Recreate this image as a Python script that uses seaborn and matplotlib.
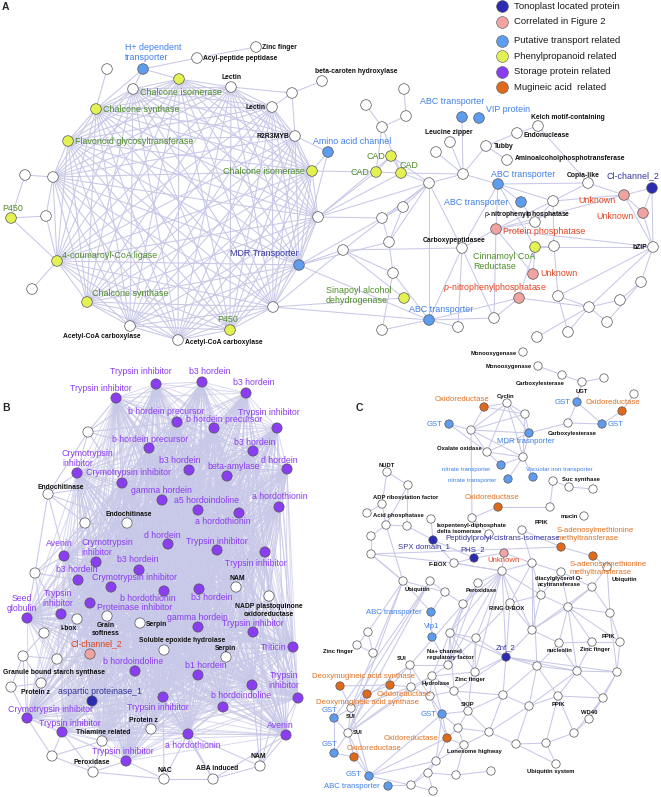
import pandas as pd
import seaborn as sns
import matplotlib.pyplot as plt
from matplotlib.collections import LineCollection
from itertools import combinations

# ---------------- panel A: node layout (pixels) and class
a_x = [143, 197, 256, 107, 179, 133, 231, 292, 322, 272,
       96, 295, 68, 328, 312, 25, 53, 11, 46, 318,
       57, 299, 32, 87, 273, 130, 230, 178, 404, 366,
       406, 382, 462, 479, 538, 517, 450, 486, 436, 507,
       391, 376, 401, 463, 498, 429, 588, 652, 624, 521,
       553, 403, 382, 643, 535, 496, 389, 462, 535, 554,
       653, 343, 393, 533, 641, 519, 404, 558, 620, 589,
       429, 494, 458, 382, 607, 568, 537]
a_y = [69, 58, 47, 69, 79, 89, 87, 93, 81, 107,
       109, 136, 141, 152, 171, 175, 177, 218, 216, 217,
       261, 265, 289, 302, 307, 326, 330, 340, 89, 105,
       116, 127, 117, 118, 126, 133, 142, 146, 152, 160,
       156, 172, 173, 174, 184, 183, 183, 188, 195, 202,
       201, 207, 218, 213, 222, 229, 242, 248, 247, 246,
       247, 250, 273, 274, 282, 298, 298, 296, 300, 307,
       320, 318, 327, 330, 322, 332, 337]
a_cat = list("bwwwywwwww" "ywybywwyww" "ybwywwywww" "wwbbwwwwww"
             "yyywbwwtcb" "wwwcwcwwyw" "wwwcwcywww" "bwwwwww")

# phenylpropanoid cluster: everyone linked to everyone
a_ring = [4, 5, 6, 9, 10, 11, 12, 14, 16, 19, 20, 21, 23, 24, 25, 26, 27]
a_edges = [(0, 1), (1, 2), (0, 5), (0, 4), (0, 10), (3, 10), (6, 7), (7, 8), (7, 9), (7, 11),
           (11, 13), (13, 14), (13, 21), (15, 16), (15, 17), (17, 18), (18, 16), (17, 20), (18, 20),
           (20, 22), (19, 40), (19, 41), (19, 42), (14, 41), (19, 45), (21, 56), (21, 61), (24, 61),
           (24, 66), (21, 70), (24, 70), (21, 52), (19, 52), (28, 30), (29, 31), (30, 31), (31, 41),
           (31, 42), (40, 42), (40, 41), (41, 42), (40, 45), (42, 45), (42, 43), (43, 32), (43, 36),
           (43, 38), (43, 37), (43, 44), (43, 45), (37, 35), (35, 34), (37, 39), (34, 46), (45, 51),
           (45, 52), (45, 56), (45, 57), (45, 70), (45, 61), (44, 46), (44, 49), (44, 55), (44, 57),
           (44, 58), (44, 50), (46, 48), (46, 50), (47, 48), (47, 53), (47, 60), (48, 53), (48, 60),
           (48, 50), (48, 55), (50, 54), (50, 59), (50, 55), (53, 60), (60, 64), (60, 69), (60, 58),
           (60, 55), (60, 67), (64, 74), (64, 68), (55, 54), (55, 63), (55, 71), (55, 57), (57, 71),
           (57, 72), (57, 70), (57, 61), (56, 52), (56, 51), (56, 62), (62, 61), (62, 70), (62, 73),
           (65, 58), (65, 70), (65, 71), (65, 69), (70, 72), (70, 73), (70, 71), (67, 59), (67, 69),
           (67, 75), (69, 74), (69, 75), (69, 76), (68, 69), (59, 58), (63, 58), (61, 66), (49, 54),
           (51, 52)]

a_labels = [(0, "H+ dependent\ntransporter", -18, -16.5, 'left'),
            (1, "Acyl-peptide peptidase", 6, 0, 'left'),
            (2, "Zinc finger", 6, 0, 'left'),
            (4, "Chalcone isomerase", -39, 13, 'left'),
            (6, "Lectin", 0, -10, 'center'),
            (8, "beta-caroten hydroxylase", -7, -10, 'left'),
            (9, "Lectin", -6, 0, 'right'),
            (10, "Chalcone synthase", 7, 0, 'left'),
            (11, "R2R3MYB", -6, 0, 'right'),
            (12, "Flavonoid glycosyltransferase", 7, 0, 'left'),
            (13, "Amino acid channel", 24, -11, 'center'),
            (14, "Chalcone isomerase", -7, 0, 'right'),
            (17, "P450", 2, -10, 'center'),
            (20, "4-coumaroyl-CoA ligase", 5, -6, 'left'),
            (21, "MDR Transporter", -35, -12, 'center'),
            (23, "Chalcone synthase", 5, -9, 'left'),
            (25, "Acetyl-CoA carboxylase", -28, 10, 'center'),
            (26, "P450", -2, -11, 'center'),
            (27, "Acetyl-CoA carboxylase", 7, 2, 'left'),
            (32, "ABC transporter", -10, -16, 'center'),
            (33, "VIP protein", 7, -9, 'left'),
            (34, "Kelch motif-containing", -7, -9, 'left'),
            (35, "Endonuclease", 7, 2, 'left'),
            (36, "Leucine zipper", -1, -10, 'center'),
            (37, "Tubby", 8, 0, 'left'),
            (39, "Aminoalcoholphosphotransferase", 8, -2, 'left'),
            (40, "CAD", -6, 0, 'right'),
            (41, "CAD", -7, 0, 'right'),
            (42, "CAD", -2, -8, 'left'),
            (44, "ABC transporter", 25, -10, 'center'),
            (46, "Copia-like", -5, -8, 'center'),
            (47, "Cl-channel_2", -19, -12, 'center'),
            (48, "Unknown", -8, 5, 'right'),
            (49, "ABC transporter", -13, 0, 'right'),
            (53, "Unknown", -9, 3, 'right'),
            (54, "$p$-nitrophenylphosphatase", -8, -8, 'center'),
            (55, "Protein phosphatase", 7, 2, 'left'),
            (57, "Carboxypeptidasee", -8, -8, 'center'),
            (58, "Cinnamoyl CoA\nReductase", -62, 14.5, 'left'),
            (60, "bZIP", -6, 0, 'right'),
            (63, "Unknown", 7, 0, 'left'),
            (65, "$p$-nitrophenylphosphatase", -24, -11, 'center'),
            (66, "Sinapoyl alcohol\ndehydrogenase", -78, -2.5, 'left'),
            (70, "ABC transporter", 12, -11, 'center')]

# ---------------- panel B
b_x = [156, 202, 246, 116, 177, 214, 277, 88, 149, 253,
       77, 189, 287, 227, 122, 48, 162, 279, 198, 239,
       85, 127, 168, 217, 265, 64, 96, 139, 35, 78,
       111, 236, 164, 199, 269, 27, 61, 90, 77, 107,
       140, 198, 253, 44, 90, 164, 226, 293, 23, 57,
       135, 198, 252, 41, 11, 92, 163, 223, 298, 27,
       62, 151, 102, 188, 286, 52, 126, 93, 164, 213, 260]
b_y = [384, 382, 393, 398, 422, 428, 428, 432, 448, 451,
       473, 470, 469, 476, 483, 494, 500, 507, 510, 513,
       523, 523, 544, 550, 552, 556, 562, 570, 573, 580,
       587, 587, 591, 589, 596, 618, 614, 603, 619, 616,
       623, 627, 632, 633, 654, 650, 657, 647, 656, 659,
       671, 675, 685, 683, 687, 701, 697, 707, 698, 718,
       732, 729, 741, 734, 735, 756, 761, 772, 779, 779, 766]
b_cat = list("pppppppwpp" "pppppwpppp" "wwppppppwp" "pwppwpppww"
             "wppwcwwpww" "pppwwtpppp" "pwwppwpwwww")

b_outer = [7, 15, 20, 28, 43, 48, 49, 53, 54, 65, 67, 68, 69, 70, 34]
b_edges = [(7, 3), (7, 10), (7, 15), (7, 14), (7, 0), (7, 8), (7, 4),
           (15, 10), (15, 20), (15, 28), (15, 25), (15, 14), (15, 21),
           (20, 10), (20, 25), (20, 26), (20, 21), (20, 14),
           (28, 25), (28, 35), (28, 43), (28, 29), (28, 36), (28, 20),
           (43, 35), (43, 48), (43, 49), (43, 36), (43, 38),
           (48, 49), (48, 53), (48, 54), (48, 59),
           (49, 44), (49, 53), (49, 36), (49, 38), (49, 50),
           (53, 54), (53, 55), (53, 44), (54, 59),
           (65, 59), (65, 60), (65, 67), (65, 62),
           (67, 60), (67, 66), (67, 68), (67, 62),
           (68, 66), (68, 63), (68, 69), (68, 56),
           (69, 70), (69, 63), (69, 64), (69, 56),
           (70, 64), (70, 63), (70, 58), (70, 52), (70, 24), (70, 47),
           (34, 24), (34, 47), (34, 42), (34, 17), (34, 12), (34, 58), (34, 52), (34, 9)]

b_labels = [(0, "Trypsin inhibitor", -15, -13, 'center'), (1, "b3 hordein", 8, -11, 'center'),
            (2, "b3 hordein", 8, -11, 'center'), (3, "Trypsin inhibitor", -15, -10, 'center'),
            (4, "b hordein precursor", -11, -11, 'center'), (5, "b hordein precursor", 10, -9, 'center'),
            (6, "Trypsin inhibitor", -8, -16, 'center'), (8, "b hordein precursor", 1, -9, 'center'),
            (9, "b3 hordein", 2, -9, 'center'), (10, "Crymotrypsin\ninhibitor", -15, -14.5, 'left'),
            (11, "b3 hordein", -9, -10, 'center'), (12, "d hordein", -8, -9, 'center'),
            (13, "beta-amylase", 7, -10, 'center'), (14, "Crymotrypsin inhibitor", 7, -11, 'center'),
            (15, "Endochitinase", 13, -7, 'center'), (16, "gamma hordein", -1, -10, 'center'),
            (17, "a hordothionin", 1, -11, 'center'), (18, "a5 hordoindoline", 8, -10, 'center'),
            (19, "a hordothionin", -16, 9, 'center'), (21, "Endochitinase", 2, -8, 'center'),
            (22, "d hordein", -6, -9, 'center'), (23, "Trypsin inhibitor", 0, -9, 'center'),
            (24, "Trypsin inhibitor", -9, 11, 'center'), (25, "Avenin", -5, -12, 'center'),
            (26, "Crymotrypsin\ninhibitor", -15, -14.5, 'left'), (27, "b3 hordein", -1, -10, 'center'),
            (29, "b3 hordein", -1, -10, 'center'), (30, "Crymotrypsin inhibitor", 23, -9, 'center'),
            (31, "NAM", 1, -8, 'center'), (32, "b hordothionin", -16, 7.5, 'center'),
            (33, "b3 hordein", 13, 9, 'center'), (34, "NADP plastoquinone\noxidoreductase", 0, 14.5, 'center'),
            (35, "Seed\nglobulin", -5, -14.5, 'center'), (36, "Trypsin\ninhibitor", -3, -15.5, 'center'),
            (37, "Proteinase inhibitor", 7, 5, 'left'), (38, "i-box", -8, 9, 'center'),
            (39, "Grain\nsoftness", -1, 13.5, 'center'), (40, "Serpin", 6, 1, 'left'),
            (41, "gamma hordein", -1, -10, 'center'), (42, "Trypsin inhibitor", 0, -8, 'center'),
            (44, "Cl-channel_2", 6, -10, 'center'), (45, "Soluble epoxide hydrolase", 18, -9, 'center'),
            (46, "Serpin", -1, -9, 'center'), (47, "Triticin", -7, 0, 'right'),
            (50, "b hordoindoline", -2, -9, 'center'), (51, "b1 hordein", 8, -10, 'center'),
            (52, "Trypsin\ninhibitor", 32, -4.5, 'center'), (53, "Granule bound starch synthase", 13, -10, 'center'),
            (54, "Protein z", 10, 5, 'left'), (55, "aspartic proteinase_1", 8, -10, 'center'),
            (56, "Trypsin inhibitor", -5, 10, 'center'), (57, "b hordoindoline", 18, -11, 'center'),
            (59, "Crymotrypsin inhibitor", 23, -9, 'center'), (60, "Trypsin inhibitor", 8, -9, 'center'),
            (61, "Protein z", -8, -9, 'center'), (62, "Thiamine related", 1, -9, 'center'),
            (63, "a hordothionin", 5, 11, 'center'), (64, "Avenin", -6, -9, 'center'),
            (66, "Trypsin inhibitor", -3, -10, 'center'), (67, "Peroxidase", -1, -9, 'center'),
            (68, "NAC", 1, -9, 'center'), (69, "ABA induced", 4, -10, 'center'),
            (70, "NAM", -2, -10, 'center')]

# ---------------- panel C
c_x = [523, 538, 562, 582, 604, 577, 634, 622, 568, 602,
       507, 484, 525, 449, 471, 529, 487, 523, 501, 508,
       533, 387, 408, 553, 569, 593, 382, 498, 550, 367,
       386, 431, 407, 472, 584, 371, 489, 522, 561, 433,
       371, 474, 504, 593, 454, 532, 502, 561, 607, 403,
       430, 445, 478, 592, 541, 463, 510, 568, 610, 431,
       432, 368, 357, 373, 450, 476, 532, 559, 592, 620,
       506, 448, 410, 475, 537, 577, 617, 340, 432, 390,
       367, 411, 430, 454, 503, 529, 558, 603, 468, 442,
       351, 348, 334, 334, 354, 447, 458, 489, 516, 546,
       574, 589, 464, 436, 428, 456, 491, 556, 369, 388,
       411, 433]
c_y = [352, 366, 375, 382, 378, 402, 394, 411, 423, 424,
       403, 407, 414, 424, 430, 433, 452, 457, 465, 479,
       477, 472, 485, 481, 487, 489, 504, 507, 507, 513,
       525, 519, 526, 518, 516, 536, 534, 530, 547, 540,
       554, 558, 553, 556, 563, 563, 571, 572, 567, 581,
       581, 592, 583, 587, 595, 604, 603, 607, 613, 612,
       637, 632, 645, 653, 633, 638, 630, 643, 642, 642,
       657, 665, 665, 672, 666, 671, 672, 686, 676, 685,
       694, 687, 696, 691, 695, 706, 696, 698, 711, 714,
       708, 733, 718, 753, 757, 738, 728, 732, 744, 743,
       733, 719, 745, 761, 773, 775, 771, 764, 776, 786,
       785, 791]
c_cat = list("wwwwwbwowb" "wowbwbwwbb" "bwwwwwwoww" "wwwwwwwwot" "wtcowwwwww"
             "wwwwwwwwwb" "bwwwwwwwww" "twwwwwwowo" "owwwwwwwwb" "wwbboowwww"
             "wwwwwwwwbb" "ww")

c_edges = [(1, 2), (2, 3), (3, 4), (3, 5), (5, 8), (5, 9), (9, 7), (7, 6), (8, 9), (8, 15),
           (11, 10), (11, 14), (11, 12), (10, 12), (10, 14), (10, 16), (10, 17), (12, 15), (12, 14),
           (13, 14), (14, 15), (14, 17), (14, 16), (16, 18), (16, 17), (17, 18), (17, 15), (16, 15),
           (10, 15), (17, 20), (12, 17), (14, 33), (13, 16), (17, 19),
           (21, 22), (21, 26), (22, 30), (26, 30), (26, 29), (30, 35), (30, 32), (22, 32), (30, 49),
           (32, 39), (31, 39), (27, 33), (27, 28), (28, 23), (23, 24), (24, 25), (33, 36), (37, 45),
           (37, 38), (38, 43), (40, 38), (39, 44), (39, 41), (41, 42), (41, 44), (42, 45), (42, 46),
           (44, 46), (40, 49), (40, 44), (35, 40),
           (45, 47), (45, 54), (45, 56), (45, 66), (45, 74), (47, 53), (47, 54), (47, 57), (48, 58),
           (48, 53), (48, 43), (53, 57), (53, 58), (53, 66), (57, 58), (57, 66), (57, 67), (57, 68),
           (57, 75), (57, 69), (58, 69), (58, 76), (69, 76), (68, 69), (68, 75), (68, 67), (67, 66),
           (67, 74), (67, 75), (76, 87), (76, 75), (76, 101), (75, 85), (75, 86), (75, 74), (75, 87),
           (75, 70), (74, 70), (74, 84), (74, 85), (74, 86), (70, 64), (70, 65), (70, 66), (70, 73),
           (70, 84), (70, 83), (70, 76), (64, 55), (64, 65), (64, 71), (64, 73), (64, 78), (64, 83),
           (65, 73), (65, 71), (65, 88), (55, 52), (55, 51), (55, 71), (55, 72), (51, 50), (51, 49),
           (51, 59), (59, 60), (59, 49), (60, 71), (49, 40), (49, 61), (49, 91), (50, 90), (50, 92),
           (61, 62), (61, 63), (62, 63), (72, 81), (72, 82), (72, 71), (78, 71), (78, 83), (78, 82),
           (78, 81), (78, 89), (78, 73), (79, 77), (79, 80), (79, 81), (80, 90), (80, 91), (81, 82),
           (81, 90), (82, 89), (82, 83), (82, 95), (83, 88), (83, 84), (84, 85), (84, 88), (84, 97),
           (85, 86), (85, 97), (85, 98), (86, 87), (86, 99), (86, 100), (87, 101), (87, 100),
           (88, 89), (88, 96), (88, 97), (89, 95), (89, 96), (89, 103), (95, 96), (95, 102),
           (95, 103), (95, 108), (96, 97), (96, 102), (97, 98), (97, 102), (98, 99), (98, 107),
           (99, 100), (99, 107), (100, 101), (102, 103), (102, 105), (103, 104), (103, 108),
           (103, 110), (104, 105), (104, 110), (104, 111), (105, 106), (108, 91), (108, 90),
           (108, 110), (108, 89), (109, 110), (110, 111), (90, 91), (90, 92), (90, 77), (91, 93),
           (91, 94), (91, 92), (92, 93), (93, 94), (94, 108), (91, 72), (91, 81), (91, 78), (91, 50),
           (90, 72), (90, 49), (46, 52), (46, 55), (46, 56), (46, 54), (46, 65), (46, 64), (46, 70),
           (46, 66), (46, 73), (46, 71), (46, 45), (46, 44), (56, 54), (56, 66), (56, 65), (56, 70),
           (54, 66), (54, 57), (52, 64), (52, 71)]

c_labels = [(0, "Monooxygenase", -6, 1, 'right'), (1, "Monooxygenase", -6, 0, 'right'),
            (2, "Carboxylesterase", 3, 8, 'right'), (3, "UGT", 0, 9, 'center'),
            (5, "GST", -6, 0, 'right'), (7, "Oxidoreductase", -9, -9, 'center'),
            (9, "GST", 6, 0, 'left'), (8, "Carboxylesterase", 4, 10, 'center'),
            (10, "Cyclin", -1, -7, 'center'), (11, "Oxidoreductase", -22, -8, 'center'),
            (13, "GST", -6, 0, 'right'), (15, "MDR trasnporter", -3, 8, 'center'),
            (16, "Oxalate oxidase", -5, -4, 'right'), (18, "nitrate transporter", -11, 4, 'right'),
            (19, "nitrate transporter", -12, 1, 'right'), (20, "Vacuolar iron transporter", 26, -8, 'center'),
            (21, "NUDT", 0, -7, 'center'), (24, "Suc synthase", -7, -8, 'left'),
            (26, "ADP ribosylation factor", -9, -7, 'left'), (27, "Oxidoreductase", -6, -10, 'center'),
            (29, "Acid phosphatase", 6, 2, 'left'),
            (31, "Isopentenyl-diphosphate\ndelta isomerase", 6, 9.5, 'left'),
            (34, "mucin", -6, 0, 'right'), (37, "PPIK", 13, -7, 'left'),
            (38, "S-adenosylmethionine\nmethyltransferase", -4, -12.5, 'left'),
            (39, "SPX domain_1", -9, 7, 'center'), (39, "Peptidylprolyl-cistrans-isomerase", 12, -1, 'left'),
            (41, "PHS_2", -1, -8, 'center'), (42, "Unknown", 0, 8, 'center'),
            (43, "S-adenosylmethionine\nmethyltransferase", -23, 12.5, 'left'),
            (44, "F-BOX", -7, 2, 'right'), (47, "diacylglycerol O-\nacyltransferase", -2, 9.5, 'center'),
            (48, "Ubiquitin", 5, 13, 'left'), (50, "Ubiquitin", -13, 9, 'center'),
            (52, "Peroxidase", 3, 7, 'center'), (56, "RING U-BOX", -3, 6, 'center'),
            (59, "ABC transporter", -9, 0, 'right'), (60, "Vip1", 0, -10, 'center'),
            (62, "Zinc finger", -4, 6, 'right'), (67, "nucleolin", 1, 8, 'center'),
            (68, "Zinc finger", 3, 8, 'center'), (69, "PPIK", -5, -5, 'right'),
            (70, "Znf_2", 0, -9, 'center'), (71, "Na+ channel\nregulatory factor", -21, -10.5, 'left'),
            (72, "SUI", -3, -6, 'right'), (73, "Zinc finger", -5, 7, 'center'),
            (77, "Deoxymugineic acid synthase", -28, -10, 'left'), (78, "Hydrolase", 4, 8, 'center'),
            (79, "Oxidoreductase", -13, 10, 'left'), (80, "Deoxymugineic acid synthase", 1, 8, 'center'),
            (86, "PPIK", 0, 8, 'center'), (88, "SKIP", 0, -7, 'center'),
            (89, "GST", -5, 0, 'right'), (90, "SUI", 0, 8, 'center'), (91, "SUI", 5, 0, 'left'),
            (92, "GST", -4, -8, 'center'), (93, "GST", -4, -8, 'center'),
            (94, "Oxidoreductase", -7, -8, 'left'), (95, "Oxidoreductase", -9, 0, 'right'),
            (101, "WD40", 0, -7, 'center'), (102, "Lonesome highway", 10, 7, 'center'),
            (107, "Ubiquitin system", -5, 8, 'center'), (108, "GST", -7, -1, 'right'),
            (109, "ABC transporter", -8, 0, 'right')]

legend_labels = ["Tonoplast located protein", "Correlated in Figure 2", "Putative transport related",
                 "Phenylpropanoid related", "Storage protein related", "Mugineic acid  related"]
legend_cats = ['t', 'c', 'b', 'y', 'p', 'o']

node_colors = {'w': '#ffffff', 't': '#2b2bb3', 'c': '#f0a3a0', 'b': '#5e9cef',
               'y': '#e3f252', 'p': '#8a3df1', 'o': '#e0691b'}
text_colors = {'w': '#111111', 't': '#33339c', 'c': '#e5421d', 'b': '#3f7fe6',
               'y': '#4e8c28', 'p': '#8b3cf0', 'o': '#e2701f'}
edge_color = '#c8c8e8'

sns.set_style('white')
plt.rcParams['font.family'] = ['Liberation Sans', 'DejaVu Sans']
plt.rcParams['mathtext.fontset'] = 'custom'
plt.rcParams['mathtext.rm'] = 'Liberation Sans'
plt.rcParams['mathtext.it'] = 'Liberation Sans:italic'

fig = plt.figure(figsize=(6.61, 7.97), dpi=100)
ax = fig.add_axes([0, 0, 1, 1])
ax.set_xlim(0, 661)
ax.set_ylim(797, 0)
ax.axis('off')


def draw_edges(xs, ys, pairs, alpha=1.0, lw=0.75):
    segs = [[(xs[i], ys[i]), (xs[j], ys[j])] for i, j in pairs]
    ax.add_collection(LineCollection(segs, colors=edge_color, linewidths=lw, alpha=alpha, zorder=1))


draw_edges(a_x, a_y, list(combinations(a_ring, 2)) + a_edges)
b_core = [i for i in range(len(b_x)) if i not in b_outer]
draw_edges(b_x, b_y, list(combinations(b_core, 2)), alpha=0.7, lw=0.7)
draw_edges(b_x, b_y, b_edges)
draw_edges(c_x, c_y, c_edges)

nodes = pd.concat([
    pd.DataFrame({'x': a_x, 'y': a_y, 'cat': a_cat, 'panel': 'A'}),
    pd.DataFrame({'x': b_x, 'y': b_y, 'cat': b_cat, 'panel': 'B'}),
    pd.DataFrame({'x': c_x, 'y': c_y, 'cat': c_cat, 'panel': 'C'}),
], ignore_index=True)
sns.scatterplot(data=nodes, x='x', y='y', hue='cat', palette=node_colors,
                size='panel', sizes={'A': 58, 'B': 54, 'C': 36},
                edgecolor='#555555', linewidth=0.5, legend=False, ax=ax, zorder=3)


def draw_labels(xs, ys, cats, labels, big, small, overrides=None):
    for i, txt, dx, dy, ha in labels:
        cat = cats[i]
        if overrides and i in overrides:
            cat = overrides[i]
        if cats[i] == 'w':
            ax.text(xs[i] + dx, ys[i] + dy, txt, ha=ha, va='center', fontsize=small,
                    fontweight='bold', color=text_colors['w'], zorder=4, linespacing=1.15)
        else:
            ax.text(xs[i] + dx, ys[i] + dy, txt, ha=ha, va='center', fontsize=big,
                    color=text_colors[cat], zorder=4, linespacing=1.15)


draw_labels(a_x, a_y, a_cat, a_labels, 6.4, 4.9, overrides={21: 't'})
draw_labels(b_x, b_y, b_cat, b_labels, 6.3, 4.9)
c_big = [l for l in c_labels if l[0] not in (18, 19, 20)]
c_small = [l for l in c_labels if l[0] in (18, 19, 20)]
draw_labels(c_x, c_y, c_cat, c_big, 5.6, 4.2)
draw_labels(c_x, c_y, c_cat, c_small, 4.4, 4.2)

# panel letters
for letter, (px, py) in zip("ABC", [(5, 7), (6, 408), (359, 408)]):
    ax.text(px, py, letter, fontsize=7.5, fontweight='bold', ha='center', va='center')

# legend
ly = 6
for k, (lab, cat) in enumerate(zip(legend_labels, legend_cats)):
    ax.scatter([502], [ly], s=72, color=node_colors[cat], edgecolor='#555555', linewidth=0.4, zorder=3)
    ax.text(514, ly, lab, fontsize=6.8, color='#1a1a1a', va='center', ha='left')
    ly += 19 if k == 1 else 15.5

fig.savefig('out.png', dpi=100)
